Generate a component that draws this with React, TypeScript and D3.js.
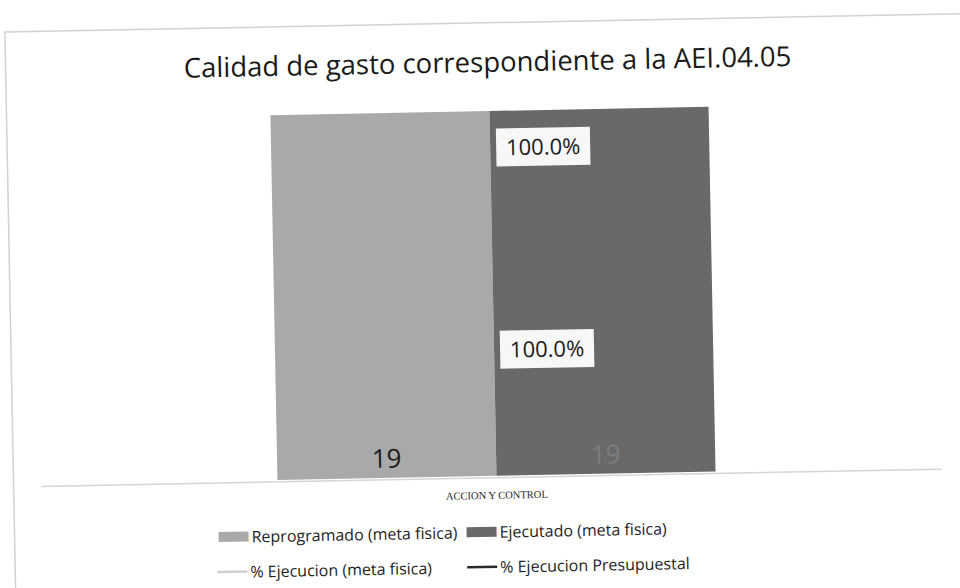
import React, { useEffect, useRef } from 'react';
import * as d3 from 'd3';

// chart values
const categories = ['ACCION Y CONTROL'];
const barSeries = ['Reprogramado (meta fisica)', 'Ejecutado (meta fisica)'];
const reprogramado = [19];
const ejecutado = [19];
const pctMetaFisica = [1.0];
const pctPresupuestal = [1.0];
const title = 'Calidad de gasto correspondiente a la AEI.04.05';

const W = 960;
const H = 588;

export default function App() {
  const ref = useRef<SVGSVGElement>(null);

  useEffect(() => {
    const svg = d3.select(ref.current);
    svg.selectAll('*').remove();

    svg.append('rect').attr('width', W).attr('height', H).attr('fill', '#ffffff');

    // the scan is a little tilted
    const g = svg.append('g').attr('transform', 'rotate(-1.1, 480, 294)');

    // chart frame
    g.append('rect')
      .attr('x', 10).attr('y', 23)
      .attr('width', 990).attr('height', 620)
      .attr('fill', 'none')
      .attr('stroke', '#d2d2d2')
      .attr('stroke-width', 1.5);

    // title
    g.append('text')
      .attr('x', 492).attr('y', 72)
      .attr('text-anchor', 'middle')
      .attr('font-family', 'Open Sans, Noto Sans, sans-serif')
      .attr('font-size', 27.5)
      .attr('fill', '#1a1a1a')
      .text(title);

    const left = 43, right = 943, top = 92, bottom = 476;

    const x0 = d3.scaleBand().domain(categories).range([left, right])
      .paddingInner(0).paddingOuter(0.527);
    const x1 = d3.scaleBand().domain(barSeries).range([0, x0.bandwidth()]);
    const y = d3.scaleLinear().domain([0, 20]).range([bottom, top]);
    // secondary axes for the two percentage series
    const y2 = d3.scaleLinear().domain([0, 1.17]).range([bottom, top]);
    const y3 = d3.scaleLinear().domain([0, 3.05]).range([bottom, top]);

    const barColors = ['#a9a9a9', '#696969'];
    const barValues = [reprogramado, ejecutado];

    barSeries.forEach((s, si) => {
      const grp = g.append('g');
      grp.selectAll('rect')
        .data(categories)
        .enter()
        .append('rect')
        .attr('x', (d) => (x0(d) as number) + (x1(s) as number))
        .attr('y', (d, i) => y(barValues[si][i]))
        .attr('width', x1.bandwidth())
        .attr('height', (d, i) => bottom - y(barValues[si][i]))
        .attr('fill', barColors[si]);

      // value labels at the base
      grp.selectAll('text')
        .data(categories)
        .enter()
        .append('text')
        .attr('x', (d) => (x0(d) as number) + (x1(s) as number) + x1.bandwidth() / 2)
        .attr('y', bottom - 10)
        .attr('text-anchor', 'middle')
        .attr('font-family', 'Open Sans, Noto Sans, sans-serif')
        .attr('font-size', 26)
        .attr('fill', si === 0 ? '#1e1e1e' : '#7d7d7d')
        .text((d, i) => barValues[si][i]);
    });

    // category axis line
    g.append('line')
      .attr('x1', left - 5).attr('x2', right - 5)
      .attr('y1', bottom + 2).attr('y2', bottom + 2)
      .attr('stroke', '#d6d6d6').attr('stroke-width', 1.5);

    g.selectAll('.cat')
      .data(categories)
      .enter()
      .append('text')
      .attr('class', 'cat')
      .attr('x', (d) => (x0(d) as number) + x0.bandwidth() / 2)
      .attr('y', bottom + 23)
      .attr('text-anchor', 'middle')
      .attr('font-family', 'Liberation Serif, serif')
      .attr('font-size', 10.5)
      .attr('fill', '#2a2a2a')
      .text((d) => d);

    // percentage lines (one point each, so only labels show)
    const pctSets = [
      { vals: pctMetaFisica, scale: y2, color: '#d0d0d0' },
      { vals: pctPresupuestal, scale: y3, color: '#2a2a2a' },
    ];
    pctSets.forEach((p) => {
      const line = d3.line<number>()
        .x((d, i) => (x0(categories[i]) as number) + x0.bandwidth() / 2)
        .y((d) => p.scale(d));
      g.append('path')
        .attr('d', line(p.vals))
        .attr('fill', 'none')
        .attr('stroke', p.color)
        .attr('stroke-width', 2.5);

      p.vals.forEach((v, i) => {
        const cx = (x0(categories[i]) as number) + x0.bandwidth() / 2;
        const cy = p.scale(v);
        const lbl = g.append('g').attr('transform', `translate(${cx + 6},${cy})`);
        lbl.append('rect')
          .attr('x', 0).attr('y', -19)
          .attr('width', 94).attr('height', 38)
          .attr('fill', '#f7f7f7');
        lbl.append('text')
          .attr('x', 47).attr('y', 8)
          .attr('text-anchor', 'middle')
          .attr('font-family', 'Open Sans, Noto Sans, sans-serif')
          .attr('font-size', 22)
          .attr('fill', '#1a1a1a')
          .text(d3.format('.1%')(v));
      });
    });

    // legend
    const legendFont = 'Open Sans, Noto Sans, sans-serif';
    const legend = g.append('g').attr('font-family', legendFont).attr('font-size', 16).attr('fill', '#1e1e1e');
    const rows = [
      { kind: 'box', color: barColors[0], label: barSeries[0], x: 214, y: 532 },
      { kind: 'box', color: barColors[1], label: barSeries[1], x: 462, y: 532 },
      { kind: 'line', color: '#d0d0d0', label: '% Ejecucion (meta fisica)', x: 212, y: 567 },
      { kind: 'line', color: '#2a2a2a', label: '% Ejecucion Presupuestal', x: 462, y: 567 },
    ];
    rows.forEach((r) => {
      if (r.kind === 'box') {
        legend.append('rect').attr('x', r.x).attr('y', r.y - 5).attr('width', 30).attr('height', 10).attr('fill', r.color);
      } else {
        legend.append('line').attr('x1', r.x).attr('x2', r.x + 30).attr('y1', r.y).attr('y2', r.y)
          .attr('stroke', r.color).attr('stroke-width', 2.5);
      }
      legend.append('text').attr('x', r.x + 33).attr('y', r.y + 6).text(r.label);
    });
  }, []);

  return (
    <svg ref={ref} width={W} height={H} style={{ position: 'absolute', left: 0, top: 0 }} />
  );
}
